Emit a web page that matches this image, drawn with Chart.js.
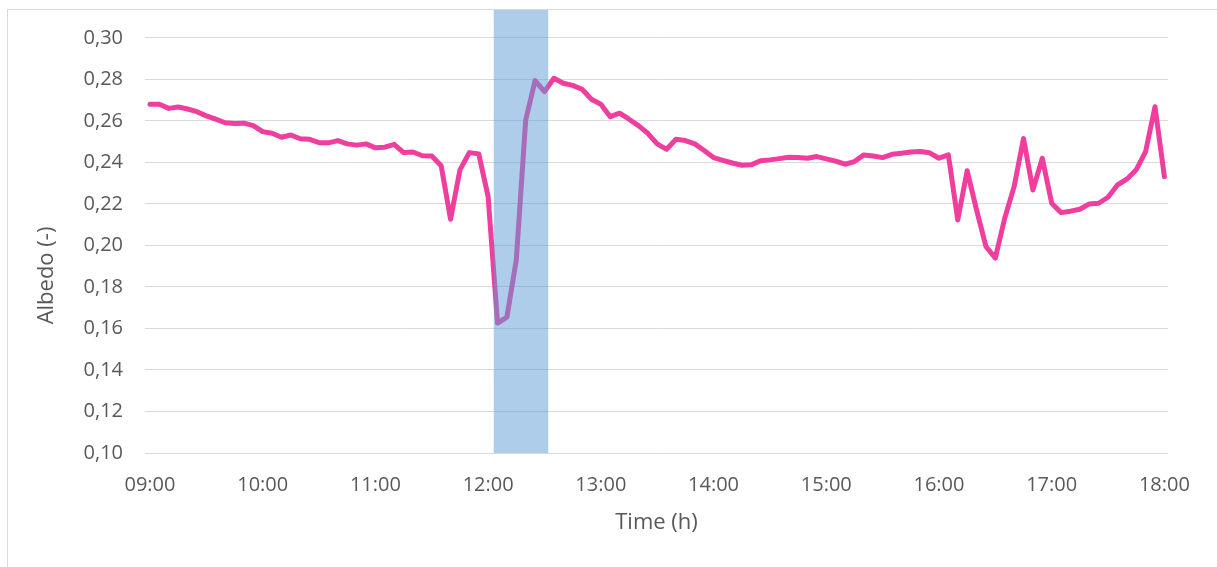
<!DOCTYPE html>
<html>
<head>
<meta charset="utf-8">
<script src="https://cdn.jsdelivr.net/npm/chart.js@4.4.1/dist/chart.umd.min.js"></script>
<style>
  html, body { margin: 0; padding: 0; background: #ffffff; overflow: hidden; }
  #wrap { position: relative; width: 1217px; height: 567px; }
  #frame { position: absolute; left: 7px; top: 9px; width: 1400px; height: 800px; border: 1px solid #d9d9d9; box-sizing: border-box; pointer-events: none; }
  canvas { position: absolute; left: 0; top: 0; }
</style>
</head>
<body>
<div id="wrap">
  <div id="frame"></div>
  <canvas id="c" width="1217" height="567"></canvas>
</div>
<script>
// ---- Data ----
const times = [
  "09:00","09:05","09:10","09:15","09:20","09:25","09:30","09:35","09:40","09:45","09:50","09:55",
  "10:00","10:05","10:10","10:15","10:20","10:25","10:30","10:35","10:40","10:45","10:50","10:55",
  "11:00","11:05","11:10","11:15","11:20","11:25","11:30","11:35","11:40","11:45","11:50","11:55",
  "12:00","12:05","12:10","12:15","12:20","12:25","12:30","12:35","12:40","12:45","12:50","12:55",
  "13:00","13:05","13:10","13:15","13:20","13:25","13:30","13:35","13:40","13:45","13:50","13:55",
  "14:00","14:05","14:10","14:15","14:20","14:25","14:30","14:35","14:40","14:45","14:50","14:55",
  "15:00","15:05","15:10","15:15","15:20","15:25","15:30","15:35","15:40","15:45","15:50","15:55",
  "16:00","16:05","16:10","16:15","16:20","16:25","16:30","16:35","16:40","16:45","16:50","16:55",
  "17:00","17:05","17:10","17:15","17:20","17:25","17:30","17:35","17:40","17:45","17:50","17:55",
  "18:00"
];
const albedo = [
  0.268,0.268,0.266,0.2667,0.2657,0.2644,0.2624,0.2608,0.2591,0.2587,0.2589,0.2577,
  0.2548,0.2540,0.2521,0.2532,0.2514,0.2511,0.2495,0.2494,0.2505,0.2489,0.2483,0.2489,
  0.2470,0.2473,0.2487,0.2447,0.2450,0.2432,0.2431,0.2384,0.2126,0.2364,0.2447,0.2441,
  0.2235,0.1626,0.1655,0.1930,0.2604,0.2794,0.2741,0.2805,0.2781,0.2771,0.2752,0.2704,
  0.2680,0.2620,0.2637,0.2608,0.2577,0.2540,0.2489,0.2463,0.2511,0.2505,0.2489,0.2457,
  0.2423,0.2410,0.2397,0.2386,0.2388,0.2408,0.2412,0.2418,0.2425,0.2423,0.2420,0.2428,
  0.2417,0.2406,0.2391,0.2404,0.2436,0.2431,0.2423,0.2439,0.2444,0.2450,0.2452,0.2446,
  0.2420,0.2436,0.2123,0.2360,0.2171,0.1995,0.1939,0.2131,0.2283,0.2515,0.2267,0.2420,
  0.2203,0.2158,0.2165,0.2174,0.2200,0.2203,0.2232,0.2291,0.2319,0.2364,0.2452,0.2668,
  0.2331
];
const xTickLabels = ["09:00","10:00","11:00","12:00","13:00","14:00","15:00","16:00","17:00","18:00"];
const yTicks = [0.10,0.12,0.14,0.16,0.18,0.20,0.22,0.24,0.26,0.28,0.30];
const bandTimes = ["12:03","12:32"];
const xTitle = "Time (h)";
const yTitle = "Albedo (-)";

// ---- helpers ----
const toMin = s => { const [h, m] = s.split(":").map(Number); return h * 60 + m; };
const fmtTime = v => String(Math.floor(v / 60)).padStart(2, "0") + ":" + String(Math.round(v % 60)).padStart(2, "0");
const points = times.map((t, i) => ({ x: toMin(t), y: albedo[i] }));
const xTickValues = xTickLabels.map(toMin);
const band = bandTimes.map(toMin);

const FONT = "'Open Sans', 'Liberation Sans', sans-serif";
const GREY = "#595959";

const bandPlugin = {
  id: "band",
  afterDatasetsDraw(chart) {
    const { ctx, chartArea, scales: { x, y } } = chart;
    const x1 = x.getPixelForValue(band[0]);
    const x2 = x.getPixelForValue(band[1]);
    const yb = y.getPixelForValue(yTicks[0]);
    ctx.save();
    ctx.fillStyle = "rgba(91,155,213,0.5)";
    ctx.fillRect(x1, chartArea.top, x2 - x1, yb - chartArea.top);
    ctx.restore();
  }
};

const yTitlePlugin = {
  id: "yTitle",
  afterDraw(chart) {
    const { ctx, chartArea } = chart;
    ctx.save();
    ctx.font = "22px " + FONT;
    ctx.fillStyle = GREY;
    ctx.textAlign = "center";
    ctx.textBaseline = "middle";
    ctx.translate(47, (chartArea.top + chartArea.bottom) / 2 + 44);
    ctx.rotate(-Math.PI / 2);
    ctx.fillText(yTitle, 0, 0);
    ctx.restore();
  }
};

new Chart(document.getElementById("c"), {
  type: "line",
  data: {
    datasets: [{
      label: "Albedo",
      data: points,
      borderColor: "#F03E9E",
      borderWidth: 5,
      pointRadius: 0,
      tension: 0,
      borderJoinStyle: "round",
      borderCapStyle: "round",
      fill: false
    }]
  },
  options: {
    responsive: false,
    animation: false,
    devicePixelRatio: 1,
    layout: { padding: { top: 10, right: 49, left: 0, bottom: 0 } },
    plugins: { legend: { display: false }, tooltip: { enabled: false } },
    scales: {
      x: {
        type: "linear",
        min: 537.34,
        max: 1081.92,
        afterBuildTicks: s => { s.ticks = xTickValues.map(v => ({ value: v })); },
        afterFit: s => { s.height = 114; s.paddingLeft = 0; s.paddingRight = 0; },
        grid: { display: false, drawTicks: false },
        border: { display: false },
        ticks: {
          autoSkip: false, maxRotation: 0, minRotation: 0,
          padding: 20,
          color: GREY,
          font: { family: FONT, size: 20 },
          callback: v => fmtTime(v)
        },
        title: {
          display: true, text: xTitle, color: GREY,
          font: { family: FONT, size: 22 },
          padding: { top: 0, bottom: 31 }
        }
      },
      y: {
        type: "linear",
        min: 0.10,
        max: 0.3134,
        afterBuildTicks: s => { s.ticks = yTicks.map(v => ({ value: v })); },
        afterFit: s => { s.width = 145; s.paddingTop = 0; s.paddingBottom = 0; },
        grid: { color: "#d9d9d9", lineWidth: 1, drawTicks: false },
        border: { display: false },
        ticks: {
          padding: 22,
          color: GREY,
          font: { family: FONT, size: 20 },
          callback: v => v.toFixed(2).replace(".", ",")
        },
        title: { display: false }
      }
    }
  },
  plugins: [bandPlugin, yTitlePlugin]
});
</script>
</body>
</html>
